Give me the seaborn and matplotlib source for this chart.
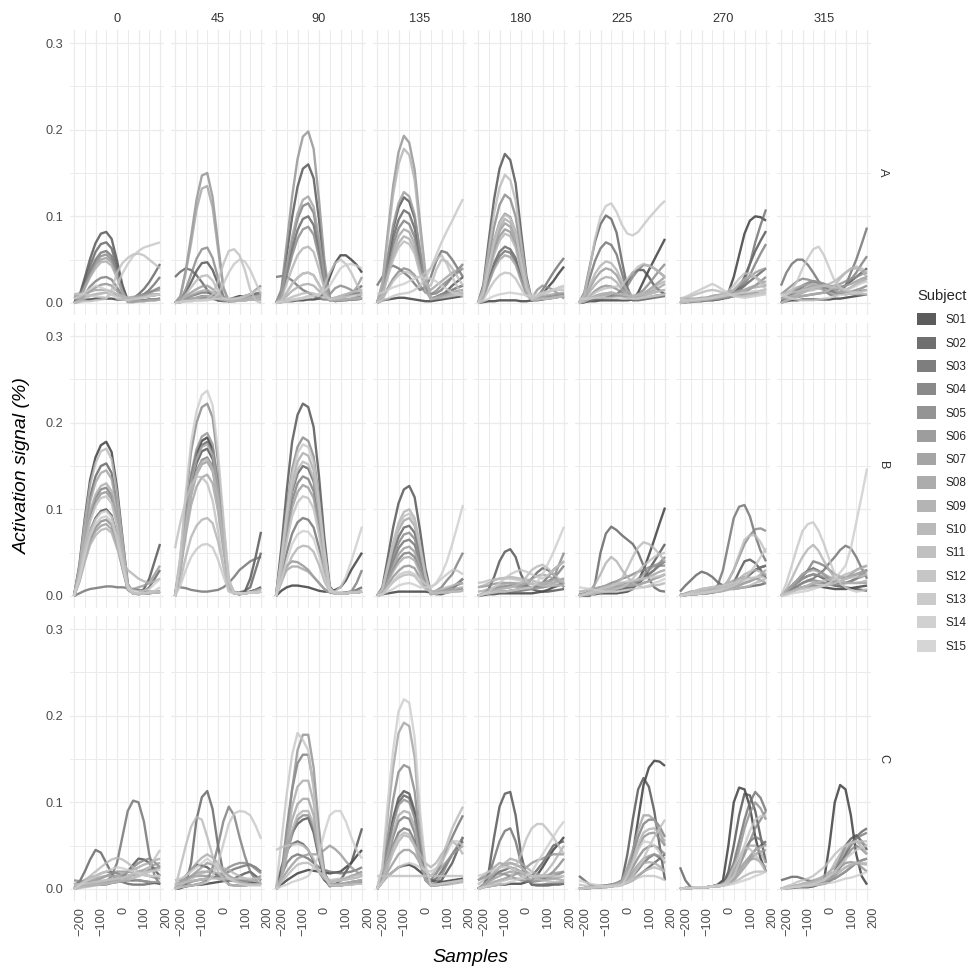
import numpy as np
import pandas as pd
import matplotlib
matplotlib.use("Agg")
import matplotlib.pyplot as plt
import seaborn as sns
from matplotlib.patches import Patch

# x positions of the readings (samples); values below are in thousandths
SAMPLES = [-200, -175, -150, -125, -100, -75, -50, -25, 0, 25, 50, 75, 100, 125, 150, 175, 200]
PER_MILLE = 1000.0
SUBJECTS = ["S%02d" % i for i in range(1, 16)]
ANGLES = ["0", "45", "90", "135", "180", "225", "270", "315"]
CONDITIONS = ["A", "B", "C"]

# ---------------- Condition A ----------------
A_0 = [
    [3, 3, 4, 4, 5, 5, 5, 5, 4, 4, 4, 5, 6, 7, 8, 9, 10],
    [5, 8, 29, 51, 69, 80, 82, 74, 49, 21, 3, 2, 3, 3, 4, 4, 5],
    [0, 6, 25, 43, 59, 68, 70, 63, 42, 18, 3, 5, 10, 16, 24, 34, 45],
    [0, 5, 21, 37, 50, 58, 60, 54, 36, 15, 2, 3, 6, 10, 15, 22, 30],
    [0, 2, 10, 19, 25, 29, 30, 27, 18, 9, 5, 6, 8, 10, 12, 15, 18],
    [8, 9, 20, 35, 47, 54, 56, 50, 34, 14, 2, 2, 3, 3, 4, 4, 5],
    [0, 2, 8, 14, 18, 21, 22, 20, 14, 8, 4, 5, 8, 10, 12, 14, 15],
    [0, 4, 18, 32, 44, 50, 52, 47, 31, 13, 1, 1, 2, 2, 3, 3, 4],
    [10, 11, 12, 13, 15, 15, 15, 13, 10, 8, 6, 7, 8, 9, 10, 10, 10],
    [0, 4, 17, 30, 40, 47, 48, 43, 29, 12, 1, 1, 2, 2, 3, 3, 4],
    [5, 6, 8, 9, 10, 11, 12, 10, 8, 6, 5, 5, 6, 7, 8, 9, 10],
    [0, 2, 5, 8, 10, 11, 12, 11, 10, 8, 6, 6, 6, 7, 8, 9, 10],
    [0, 1, 2, 2, 3, 4, 5, 15, 35, 46, 52, 56, 57, 55, 50, 45, 40],
    [10, 10, 10, 9, 8, 7, 6, 10, 20, 34, 45, 54, 60, 64, 66, 68, 70],
    [5, 8, 12, 16, 20, 18, 15, 10, 5, 4, 3, 4, 5, 6, 8, 9, 10],
]
A_45 = [
    [0, 2, 3, 4, 5, 6, 6, 5, 3, 3, 4, 6, 8, 7, 6, 5, 5],
    [0, 2, 12, 24, 37, 46, 47, 38, 22, 6, 2, 3, 5, 6, 8, 8, 8],
    [30, 36, 40, 38, 32, 24, 15, 8, 3, 2, 2, 4, 6, 8, 10, 11, 12],
    [0, 1, 5, 8, 10, 12, 12, 10, 6, 4, 4, 5, 6, 7, 8, 9, 10],
    [0, 1, 4, 5, 6, 8, 8, 6, 4, 4, 4, 5, 6, 8, 10, 15, 20],
    [0, 3, 16, 33, 51, 62, 64, 52, 29, 8, 2, 2, 3, 3, 4, 4, 4],
    [0, 8, 38, 77, 119, 147, 150, 122, 69, 18, 2, 3, 4, 5, 5, 5, 5],
    [0, 1, 8, 12, 16, 19, 20, 16, 10, 6, 3, 3, 4, 5, 6, 8, 10],
    [0, 7, 35, 69, 108, 132, 135, 110, 62, 17, 2, 2, 3, 3, 4, 4, 5],
    [0, 1, 6, 9, 12, 14, 15, 12, 8, 5, 3, 4, 5, 5, 6, 7, 8],
    [0, 1, 3, 5, 6, 7, 8, 7, 5, 3, 3, 4, 5, 6, 7, 7, 8],
    [0, 2, 10, 18, 26, 31, 32, 26, 14, 5, 2, 2, 3, 3, 4, 4, 5],
    [0, 1, 2, 3, 4, 4, 5, 10, 25, 45, 60, 62, 55, 38, 15, 3, 0],
    [0, 1, 2, 2, 3, 3, 3, 5, 10, 22, 35, 45, 50, 48, 38, 24, 10],
    [0, 1, 2, 2, 3, 3, 4, 4, 5, 5, 5, 5, 6, 8, 10, 14, 18],
]
A_90 = [
    [0, 1, 2, 2, 3, 3, 4, 4, 5, 12, 30, 46, 55, 55, 50, 44, 35],
    [0, 13, 56, 99, 134, 155, 160, 144, 96, 40, 5, 2, 3, 3, 4, 4, 5],
    [0, 8, 35, 62, 84, 97, 100, 90, 60, 25, 3, 4, 5, 8, 10, 15, 20],
    [30, 31, 30, 26, 20, 15, 12, 8, 5, 4, 4, 5, 6, 8, 10, 11, 12],
    [0, 9, 40, 71, 97, 112, 115, 104, 69, 29, 3, 3, 3, 4, 4, 5, 5],
    [0, 7, 31, 55, 74, 85, 88, 79, 53, 22, 10, 17, 20, 18, 15, 10, 5],
    [0, 16, 69, 123, 166, 192, 198, 178, 119, 50, 5, 3, 3, 4, 5, 7, 10],
    [0, 3, 12, 22, 29, 34, 35, 32, 21, 10, 4, 5, 6, 8, 10, 18, 30],
    [0, 10, 43, 76, 103, 119, 123, 111, 74, 31, 3, 3, 3, 4, 4, 5, 5],
    [0, 2, 8, 14, 18, 21, 22, 20, 14, 8, 5, 6, 8, 10, 12, 14, 15],
    [0, 5, 23, 40, 55, 63, 65, 59, 39, 17, 3, 3, 4, 4, 5, 5, 6],
    [0, 1, 4, 7, 9, 11, 12, 11, 8, 6, 5, 6, 8, 10, 12, 14, 15],
    [0, 1, 2, 4, 5, 6, 8, 9, 10, 20, 35, 46, 50, 45, 35, 22, 10],
    [0, 3, 12, 22, 29, 34, 35, 32, 21, 10, 4, 5, 6, 7, 8, 9, 10],
    [0, 1, 2, 3, 4, 5, 6, 8, 10, 14, 20, 30, 40, 44, 45, 43, 40],
]
A_135 = [
    [0, 3, 4, 5, 6, 6, 5, 4, 3, 2, 2, 3, 4, 5, 6, 7, 8],
    [0, 15, 51, 85, 110, 122, 117, 98, 59, 22, 5, 4, 8, 14, 20, 25, 30],
    [0, 13, 45, 75, 96, 107, 103, 86, 51, 19, 5, 7, 10, 12, 15, 18, 20],
    [20, 30, 40, 43, 40, 35, 30, 22, 15, 18, 30, 48, 60, 58, 50, 40, 30],
    [0, 11, 40, 67, 86, 95, 91, 76, 46, 18, 10, 11, 15, 22, 30, 38, 45],
    [0, 5, 17, 28, 36, 40, 38, 32, 20, 12, 10, 14, 20, 25, 30, 35, 40],
    [0, 23, 81, 135, 174, 193, 185, 154, 93, 35, 5, 7, 10, 12, 15, 18, 20],
    [0, 15, 54, 90, 115, 128, 123, 102, 61, 23, 5, 6, 8, 10, 12, 14, 15],
    [0, 10, 36, 60, 77, 85, 82, 68, 41, 20, 15, 20, 25, 30, 35, 38, 40],
    [0, 9, 32, 54, 69, 77, 74, 62, 37, 14, 5, 6, 8, 9, 10, 11, 12],
    [0, 21, 75, 125, 160, 178, 171, 142, 85, 32, 4, 5, 6, 7, 8, 9, 10],
    [0, 9, 30, 50, 64, 71, 68, 57, 34, 22, 20, 38, 50, 48, 40, 30, 20],
    [0, 4, 15, 25, 32, 36, 35, 30, 30, 35, 40, 50, 55, 45, 30, 18, 10],
    [0, 3, 5, 8, 10, 11, 12, 15, 20, 28, 40, 55, 70, 83, 95, 108, 120],
    [10, 12, 15, 18, 20, 22, 25, 28, 30, 29, 28, 25, 20, 16, 12, 10, 8],
]
A_180 = [
    [0, 1, 2, 2, 3, 3, 3, 3, 2, 2, 3, 5, 10, 18, 25, 34, 42],
    [0, 21, 72, 120, 155, 172, 165, 138, 83, 31, 3, 3, 4, 5, 6, 7, 8],
    [0, 8, 27, 46, 59, 65, 62, 52, 31, 12, 4, 5, 6, 7, 8, 9, 10],
    [0, 7, 25, 42, 54, 60, 58, 48, 29, 11, 3, 7, 15, 25, 35, 44, 52],
    [0, 12, 43, 72, 93, 103, 99, 82, 49, 19, 4, 4, 5, 5, 6, 7, 8],
    [0, 15, 53, 88, 113, 125, 120, 100, 60, 23, 4, 5, 6, 7, 8, 9, 10],
    [0, 10, 36, 60, 77, 85, 82, 68, 41, 15, 5, 15, 20, 18, 15, 10, 5],
    [0, 11, 39, 64, 83, 92, 88, 74, 44, 17, 5, 5, 6, 7, 8, 9, 10],
    [0, 7, 23, 39, 50, 55, 53, 44, 26, 10, 4, 6, 8, 9, 10, 11, 12],
    [0, 12, 41, 68, 87, 97, 93, 78, 47, 17, 4, 4, 5, 5, 6, 7, 8],
    [0, 10, 34, 56, 72, 80, 77, 64, 38, 14, 4, 4, 5, 5, 6, 7, 8],
    [0, 18, 62, 104, 133, 148, 142, 118, 71, 27, 4, 4, 5, 5, 6, 7, 8],
    [0, 4, 15, 25, 32, 35, 34, 28, 17, 8, 5, 8, 10, 13, 15, 15, 15],
    [0, 12, 43, 71, 92, 102, 98, 82, 49, 18, 5, 7, 10, 12, 15, 18, 20],
    [0, 2, 5, 8, 10, 11, 12, 11, 10, 9, 8, 10, 12, 14, 15, 17, 18],
]
A_225 = [
    [0, 1, 2, 2, 3, 3, 3, 3, 3, 3, 4, 12, 25, 38, 50, 62, 74],
    [0, 1, 3, 4, 5, 6, 8, 10, 15, 25, 35, 38, 38, 30, 20, 14, 10],
    [0, 12, 42, 71, 91, 101, 97, 81, 48, 18, 3, 3, 4, 5, 6, 7, 8],
    [0, 8, 29, 49, 63, 70, 67, 56, 34, 14, 4, 4, 5, 6, 8, 9, 10],
    [0, 1, 3, 4, 5, 6, 6, 8, 10, 20, 30, 38, 44, 43, 40, 35, 30],
    [0, 2, 5, 8, 10, 11, 12, 10, 8, 6, 6, 10, 15, 22, 30, 38, 45],
    [0, 2, 8, 14, 18, 20, 19, 16, 12, 8, 5, 5, 6, 7, 8, 9, 10],
    [0, 5, 17, 28, 36, 40, 38, 32, 20, 10, 6, 8, 10, 15, 20, 25, 30],
    [0, 2, 5, 7, 8, 9, 10, 9, 8, 7, 6, 8, 10, 12, 15, 18, 22],
    [0, 4, 13, 21, 27, 30, 29, 24, 15, 8, 5, 6, 8, 10, 12, 14, 15],
    [0, 6, 20, 34, 43, 48, 46, 38, 25, 14, 8, 10, 12, 15, 18, 22, 25],
    [0, 2, 5, 8, 10, 11, 12, 11, 10, 9, 8, 9, 10, 11, 12, 14, 15],
    [0, 4, 8, 12, 15, 17, 18, 19, 20, 28, 35, 42, 45, 43, 40, 35, 30],
    [0, 10, 40, 75, 100, 112, 115, 105, 90, 80, 78, 82, 90, 98, 105, 112, 118],
    [5, 5, 5, 6, 6, 6, 6, 6, 5, 5, 5, 5, 6, 7, 8, 9, 10],
]
A_270 = [
    [0, 1, 1, 2, 2, 3, 3, 4, 5, 12, 30, 55, 80, 95, 100, 99, 95],
    [0, 1, 2, 3, 4, 5, 6, 7, 8, 10, 12, 18, 30, 45, 60, 72, 83],
    [2, 2, 3, 3, 4, 4, 5, 5, 6, 8, 10, 15, 20, 25, 30, 35, 40],
    [0, 1, 2, 2, 3, 3, 4, 4, 5, 6, 8, 14, 25, 45, 70, 90, 108],
    [0, 2, 3, 4, 5, 5, 6, 7, 8, 9, 10, 14, 20, 32, 45, 57, 68],
    [0, 1, 2, 3, 4, 4, 5, 5, 6, 7, 8, 10, 12, 16, 20, 25, 30],
    [5, 5, 5, 5, 6, 6, 6, 6, 7, 7, 8, 9, 10, 11, 12, 14, 15],
    [0, 2, 3, 4, 5, 6, 8, 9, 10, 12, 15, 20, 25, 30, 35, 38, 40],
    [0, 1, 2, 2, 3, 3, 4, 5, 6, 8, 10, 12, 15, 18, 20, 23, 25],
    [2, 2, 3, 4, 5, 6, 8, 9, 10, 11, 12, 14, 15, 17, 18, 19, 20],
    [0, 1, 2, 2, 3, 4, 5, 6, 8, 11, 15, 22, 28, 30, 30, 26, 20],
    [5, 6, 8, 10, 12, 14, 15, 14, 12, 10, 8, 8, 8, 9, 10, 11, 12],
    [0, 1, 2, 3, 4, 5, 6, 8, 10, 14, 20, 28, 34, 34, 30, 23, 15],
    [5, 7, 10, 13, 16, 19, 22, 19, 15, 11, 8, 7, 6, 7, 8, 9, 10],
    [3, 3, 4, 4, 5, 5, 6, 7, 8, 9, 10, 11, 12, 13, 14, 14, 15],
]
A_315 = [
    [2, 2, 3, 3, 4, 4, 4, 4, 4, 4, 5, 5, 6, 7, 8, 9, 10],
    [5, 5, 6, 7, 8, 9, 10, 11, 12, 13, 15, 17, 20, 25, 30, 35, 40],
    [0, 5, 10, 15, 20, 23, 25, 23, 20, 15, 12, 11, 10, 11, 12, 14, 15],
    [20, 35, 45, 50, 50, 44, 35, 25, 15, 10, 8, 12, 20, 35, 50, 68, 87],
    [0, 5, 10, 14, 18, 22, 25, 24, 22, 18, 15, 17, 20, 27, 35, 45, 54],
    [10, 15, 20, 25, 28, 27, 25, 22, 18, 15, 12, 12, 12, 13, 15, 17, 20],
    [0, 4, 8, 12, 15, 18, 20, 19, 18, 19, 20, 22, 25, 28, 30, 33, 35],
    [5, 8, 12, 16, 20, 23, 25, 24, 22, 20, 18, 19, 20, 22, 25, 28, 30],
    [0, 2, 5, 8, 12, 15, 18, 17, 15, 12, 10, 12, 15, 18, 22, 25, 28],
    [10, 12, 15, 18, 20, 21, 22, 21, 20, 18, 15, 13, 12, 11, 10, 10, 10],
    [5, 6, 8, 10, 12, 14, 15, 17, 20, 22, 25, 30, 35, 39, 40, 37, 30],
    [0, 3, 5, 7, 8, 9, 10, 11, 12, 15, 20, 28, 35, 40, 42, 40, 35],
    [10, 11, 12, 13, 15, 16, 18, 19, 20, 19, 18, 16, 15, 13, 12, 11, 10],
    [8, 10, 15, 25, 40, 52, 62, 65, 55, 40, 25, 18, 15, 17, 20, 23, 25],
    [10, 7, 5, 4, 3, 3, 3, 4, 5, 6, 8, 9, 10, 11, 12, 13, 15],
]

# ---------------- Condition B ----------------
B_0 = [
    [0, 36, 89, 134, 160, 174, 178, 166, 125, 68, 14, 3, 2, 3, 3, 4, 5],
    [0, 20, 50, 75, 90, 98, 100, 93, 70, 38, 8, 3, 3, 8, 20, 40, 60],
    [0, 31, 77, 115, 138, 150, 153, 142, 107, 58, 12, 3, 3, 5, 10, 20, 30],
    [0, 3, 6, 8, 9, 10, 11, 11, 10, 10, 9, 8, 7, 6, 5, 5, 4],
    [0, 25, 63, 94, 113, 123, 125, 116, 88, 48, 10, 3, 3, 3, 4, 4, 5],
    [0, 18, 44, 66, 79, 86, 88, 82, 62, 33, 7, 3, 3, 3, 4, 4, 5],
    [0, 24, 60, 90, 108, 118, 120, 112, 84, 46, 10, 3, 3, 3, 4, 4, 5],
    [0, 17, 42, 62, 75, 81, 83, 77, 58, 32, 8, 8, 10, 12, 15, 25, 35],
    [0, 29, 73, 109, 131, 142, 145, 135, 102, 55, 12, 3, 3, 3, 4, 4, 5],
    [0, 26, 65, 98, 117, 127, 130, 121, 91, 49, 10, 3, 3, 3, 4, 4, 5],
    [0, 16, 39, 59, 70, 76, 78, 73, 55, 40, 30, 25, 20, 17, 15, 17, 20],
    [0, 34, 85, 128, 153, 167, 170, 158, 119, 65, 14, 3, 3, 3, 4, 4, 5],
    [0, 23, 58, 86, 104, 113, 115, 107, 81, 44, 9, 3, 3, 3, 4, 4, 5],
    [0, 18, 46, 69, 83, 90, 92, 86, 64, 35, 8, 3, 3, 3, 4, 6, 10],
    [0, 20, 49, 74, 88, 96, 98, 91, 69, 37, 10, 6, 5, 6, 8, 14, 20],
]
B_45 = [
    [0, 37, 92, 137, 165, 179, 183, 170, 128, 70, 15, 3, 2, 3, 5, 7, 10],
    [0, 34, 85, 128, 153, 167, 170, 158, 119, 65, 14, 3, 2, 5, 20, 45, 74],
    [0, 36, 89, 134, 160, 174, 178, 166, 125, 68, 14, 4, 4, 6, 10, 30, 50],
    [12, 10, 9, 7, 6, 5, 5, 6, 7, 10, 15, 22, 30, 35, 40, 43, 45],
    [0, 32, 80, 120, 144, 157, 160, 149, 112, 61, 13, 3, 3, 4, 5, 7, 10],
    [0, 44, 111, 167, 200, 218, 222, 206, 155, 84, 18, 4, 3, 3, 4, 4, 5],
    [0, 38, 94, 141, 169, 184, 188, 175, 132, 71, 15, 3, 3, 3, 4, 4, 5],
    [0, 31, 78, 116, 140, 152, 155, 144, 109, 59, 12, 3, 3, 3, 4, 4, 5],
    [0, 28, 70, 105, 126, 137, 140, 130, 98, 53, 11, 3, 3, 3, 4, 4, 5],
    [0, 35, 88, 131, 158, 172, 175, 163, 123, 67, 14, 3, 3, 3, 4, 4, 5],
    [0, 18, 45, 68, 81, 88, 90, 84, 63, 34, 7, 3, 3, 3, 4, 4, 5],
    [0, 32, 79, 119, 142, 155, 158, 147, 111, 60, 13, 3, 3, 3, 4, 6, 8],
    [55, 85, 110, 128, 138, 137, 130, 110, 75, 35, 6, 3, 3, 3, 4, 4, 5],
    [0, 12, 30, 45, 54, 59, 60, 56, 42, 23, 5, 3, 3, 3, 4, 4, 5],
    [0, 47, 119, 178, 213, 232, 237, 220, 166, 90, 19, 4, 3, 3, 4, 4, 5],
]
B_90 = [
    [0, 6, 10, 12, 12, 11, 10, 8, 6, 5, 5, 7, 10, 18, 30, 40, 50],
    [0, 56, 122, 178, 209, 222, 218, 195, 138, 67, 11, 3, 3, 3, 4, 4, 5],
    [0, 38, 83, 120, 141, 150, 147, 132, 93, 45, 8, 3, 3, 4, 5, 7, 10],
    [0, 23, 50, 72, 85, 90, 88, 79, 56, 27, 5, 3, 3, 3, 4, 4, 5],
    [0, 35, 76, 110, 130, 138, 135, 121, 86, 41, 7, 3, 3, 4, 5, 15, 30],
    [0, 46, 101, 146, 172, 183, 179, 161, 113, 55, 9, 3, 3, 3, 4, 4, 5],
    [0, 25, 35, 40, 39, 35, 30, 22, 15, 8, 4, 3, 3, 3, 4, 4, 5],
    [0, 32, 70, 102, 120, 128, 125, 113, 79, 38, 6, 3, 3, 3, 4, 4, 5],
    [0, 18, 30, 34, 34, 31, 28, 22, 15, 8, 4, 3, 3, 3, 4, 4, 5],
    [0, 41, 91, 132, 155, 165, 162, 145, 102, 50, 8, 3, 3, 3, 4, 4, 5],
    [0, 15, 32, 46, 55, 58, 57, 51, 36, 17, 5, 4, 4, 4, 5, 5, 6],
    [0, 39, 85, 124, 146, 155, 152, 136, 96, 47, 8, 3, 3, 3, 4, 4, 5],
    [0, 29, 63, 92, 108, 115, 113, 101, 71, 35, 6, 3, 3, 3, 4, 4, 5],
    [0, 44, 96, 140, 165, 175, 172, 154, 109, 53, 9, 3, 3, 3, 4, 4, 5],
    [0, 19, 41, 60, 71, 75, 74, 66, 47, 23, 5, 5, 10, 22, 40, 60, 80],
]
B_135 = [
    [0, 2, 3, 4, 5, 5, 5, 5, 5, 5, 4, 4, 5, 5, 6, 6, 6],
    [0, 10, 44, 79, 107, 123, 127, 114, 76, 32, 4, 2, 2, 4, 8, 14, 20],
    [0, 6, 28, 50, 68, 79, 81, 73, 49, 20, 2, 3, 3, 4, 5, 6, 8],
    [0, 5, 23, 40, 55, 63, 65, 59, 39, 16, 3, 4, 5, 8, 10, 13, 15],
    [0, 4, 18, 31, 42, 49, 50, 45, 30, 13, 4, 6, 10, 18, 25, 38, 50],
    [0, 6, 26, 45, 61, 71, 73, 66, 44, 18, 3, 3, 4, 5, 6, 7, 8],
    [0, 3, 12, 22, 29, 34, 35, 32, 21, 10, 4, 5, 6, 8, 10, 15, 20],
    [0, 5, 20, 35, 48, 55, 57, 51, 34, 14, 3, 3, 4, 5, 6, 7, 8],
    [0, 7, 32, 56, 76, 87, 90, 81, 54, 23, 3, 3, 4, 5, 6, 7, 8],
    [0, 4, 16, 28, 38, 44, 45, 41, 27, 11, 4, 5, 6, 7, 8, 9, 10],
    [0, 8, 35, 62, 84, 97, 100, 90, 60, 25, 3, 3, 4, 4, 5, 5, 6],
    [0, 2, 9, 16, 21, 24, 25, 23, 15, 8, 5, 6, 8, 10, 12, 14, 15],
    [0, 8, 33, 59, 80, 92, 95, 86, 57, 24, 3, 3, 4, 4, 5, 5, 6],
    [0, 2, 10, 17, 24, 27, 28, 25, 20, 14, 10, 14, 20, 25, 30, 29, 25],
    [0, 2, 5, 8, 12, 14, 15, 13, 10, 10, 10, 15, 25, 40, 60, 82, 105],
]
B_180 = [
    [0, 1, 2, 2, 3, 3, 3, 3, 3, 3, 3, 4, 5, 7, 10, 12, 15],
    [0, 2, 8, 22, 40, 51, 54, 45, 25, 12, 8, 6, 5, 5, 6, 7, 8],
    [0, 2, 3, 4, 5, 5, 6, 7, 8, 13, 20, 27, 32, 30, 25, 17, 10],
    [0, 2, 3, 3, 4, 4, 5, 5, 6, 7, 8, 11, 15, 22, 30, 35, 40],
    [0, 3, 5, 8, 10, 11, 12, 12, 12, 11, 10, 11, 12, 15, 20, 27, 35],
    [0, 2, 3, 4, 5, 5, 6, 7, 8, 9, 10, 12, 15, 17, 20, 35, 50],
    [10, 11, 12, 14, 15, 15, 15, 14, 12, 11, 10, 10, 10, 11, 12, 13, 15],
    [0, 3, 5, 8, 10, 11, 12, 11, 10, 9, 8, 9, 10, 12, 15, 17, 20],
    [0, 3, 5, 6, 8, 9, 10, 11, 12, 16, 20, 23, 25, 23, 20, 17, 15],
    [5, 6, 8, 10, 12, 14, 15, 15, 15, 14, 14, 14, 15, 16, 18, 19, 20],
    [10, 12, 15, 18, 20, 21, 22, 21, 20, 19, 18, 16, 15, 15, 15, 16, 18],
    [0, 2, 4, 6, 8, 9, 10, 12, 15, 22, 30, 34, 36, 32, 25, 20, 15],
    [15, 16, 18, 19, 20, 20, 20, 19, 18, 16, 15, 13, 12, 12, 12, 12, 12],
    [0, 3, 5, 10, 15, 20, 25, 28, 30, 28, 25, 22, 20, 24, 30, 35, 40],
    [0, 2, 3, 4, 5, 5, 6, 7, 8, 9, 10, 16, 25, 37, 50, 65, 80],
]
B_225 = [
    [0, 1, 2, 2, 3, 3, 3, 3, 4, 5, 8, 17, 30, 47, 65, 84, 102],
    [0, 2, 3, 4, 5, 5, 6, 7, 8, 9, 10, 14, 20, 30, 40, 50, 60],
    [0, 0, 0, 15, 50, 72, 80, 76, 70, 65, 60, 50, 35, 20, 10, 6, 5],
    [0, 1, 2, 3, 4, 5, 6, 7, 8, 10, 12, 16, 20, 25, 30, 35, 40],
    [0, 2, 4, 6, 8, 10, 12, 14, 15, 15, 15, 17, 20, 25, 30, 38, 45],
    [2, 3, 5, 8, 10, 12, 15, 17, 20, 22, 25, 28, 30, 33, 35, 35, 35],
    [0, 2, 3, 5, 6, 8, 10, 11, 12, 12, 12, 13, 15, 17, 20, 22, 25],
    [0, 3, 5, 8, 10, 11, 12, 12, 12, 13, 15, 20, 25, 30, 35, 38, 40],
    [0, 1, 2, 3, 5, 6, 8, 9, 10, 12, 15, 17, 20, 22, 25, 28, 30],
    [5, 6, 8, 9, 10, 11, 12, 12, 12, 12, 12, 13, 15, 17, 20, 22, 25],
    [0, 2, 5, 14, 25, 38, 45, 40, 30, 22, 15, 12, 10, 11, 12, 13, 15],
    [0, 2, 3, 5, 6, 8, 10, 14, 20, 32, 45, 56, 62, 60, 55, 48, 40],
    [0, 1, 2, 3, 4, 5, 6, 8, 10, 14, 20, 28, 35, 40, 45, 48, 50],
    [0, 2, 4, 6, 8, 10, 12, 14, 15, 17, 18, 19, 20, 21, 22, 23, 25],
    [10, 9, 8, 7, 6, 5, 5, 5, 6, 7, 8, 9, 10, 12, 15, 17, 20],
]
B_270 = [
    [0, 1, 2, 2, 3, 3, 4, 5, 6, 8, 10, 15, 20, 25, 30, 33, 35],
    [0, 2, 3, 4, 5, 5, 6, 7, 8, 10, 15, 28, 40, 42, 38, 30, 20],
    [5, 12, 18, 24, 28, 26, 22, 16, 12, 10, 8, 9, 10, 11, 12, 13, 15],
    [0, 1, 2, 3, 4, 5, 6, 12, 30, 60, 90, 103, 105, 92, 70, 52, 40],
    [0, 1, 2, 3, 4, 5, 6, 7, 8, 10, 12, 16, 20, 25, 30, 33, 35],
    [0, 1, 2, 2, 3, 4, 5, 7, 10, 18, 30, 45, 60, 70, 77, 78, 75],
    [0, 3, 5, 6, 8, 9, 10, 11, 12, 12, 12, 13, 15, 17, 20, 22, 25],
    [0, 2, 3, 4, 5, 5, 6, 7, 8, 9, 10, 12, 15, 17, 20, 22, 25],
    [2, 2, 3, 4, 5, 6, 8, 10, 12, 15, 18, 20, 22, 21, 20, 18, 15],
    [0, 1, 2, 2, 3, 3, 4, 5, 6, 8, 10, 12, 15, 17, 20, 25, 30],
    [0, 2, 3, 4, 5, 6, 8, 9, 10, 12, 15, 20, 25, 28, 30, 28, 25],
    [0, 1, 2, 3, 4, 4, 5, 5, 6, 7, 8, 9, 10, 12, 15, 17, 20],
    [0, 2, 3, 4, 5, 5, 6, 8, 10, 18, 30, 48, 65, 70, 70, 62, 50],
    [0, 2, 4, 6, 8, 9, 10, 11, 12, 13, 15, 17, 20, 27, 35, 45, 55],
    [0, 1, 2, 2, 3, 4, 5, 6, 8, 10, 12, 15, 18, 20, 22, 22, 20],
]
B_315 = [
    [0, 3, 5, 8, 10, 11, 12, 11, 10, 9, 8, 8, 8, 9, 10, 11, 12],
    [0, 5, 10, 15, 20, 23, 25, 23, 20, 16, 12, 11, 10, 9, 8, 7, 6],
    [0, 6, 12, 18, 25, 29, 32, 29, 25, 20, 15, 15, 15, 17, 20, 25, 30],
    [0, 4, 8, 11, 15, 18, 20, 25, 30, 38, 45, 53, 58, 55, 45, 32, 20],
    [0, 5, 10, 16, 22, 30, 40, 38, 35, 30, 25, 22, 20, 22, 25, 27, 30],
    [0, 4, 8, 11, 15, 17, 18, 17, 15, 13, 12, 13, 15, 17, 20, 22, 25],
    [0, 3, 5, 8, 10, 12, 15, 15, 15, 15, 15, 17, 20, 25, 30, 33, 35],
    [0, 5, 10, 15, 20, 23, 25, 24, 22, 20, 18, 16, 15, 15, 15, 15, 15],
    [0, 3, 5, 8, 10, 11, 12, 12, 12, 13, 15, 17, 20, 22, 25, 28, 30],
    [0, 6, 12, 18, 25, 28, 30, 28, 25, 22, 20, 21, 22, 23, 25, 26, 28],
    [0, 8, 20, 33, 45, 54, 59, 52, 40, 30, 20, 17, 15, 15, 15, 16, 18],
    [0, 3, 5, 8, 10, 12, 15, 16, 18, 19, 20, 22, 25, 27, 30, 32, 35],
    [0, 3, 5, 7, 8, 9, 10, 11, 12, 13, 15, 17, 20, 21, 22, 23, 25],
    [0, 15, 35, 56, 75, 83, 85, 75, 60, 42, 25, 15, 10, 7, 5, 6, 8],
    [0, 1, 3, 4, 5, 6, 8, 10, 12, 15, 20, 27, 35, 55, 85, 115, 147],
]

# ---------------- Condition C ----------------
C_0 = [
    [3, 3, 4, 4, 5, 5, 6, 7, 8, 9, 10, 10, 10, 9, 8, 7, 6],
    [2, 3, 4, 5, 6, 7, 8, 9, 10, 14, 20, 28, 35, 34, 30, 22, 15],
    [0, 8, 20, 34, 45, 42, 30, 18, 10, 8, 6, 5, 5, 5, 6, 7, 8],
    [0, 2, 3, 4, 5, 6, 8, 15, 30, 60, 90, 102, 100, 78, 40, 15, 5],
    [5, 8, 10, 13, 15, 18, 20, 19, 18, 16, 15, 16, 18, 20, 22, 24, 25],
    [10, 9, 8, 7, 6, 5, 5, 7, 10, 15, 20, 25, 30, 33, 35, 31, 25],
    [0, 3, 5, 8, 10, 12, 15, 18, 20, 20, 20, 19, 18, 16, 15, 13, 12],
    [0, 2, 4, 6, 8, 9, 10, 11, 12, 13, 15, 17, 20, 22, 25, 28, 30],
    [5, 6, 8, 10, 12, 14, 15, 15, 15, 13, 12, 11, 10, 9, 8, 8, 8],
    [0, 2, 3, 5, 6, 8, 10, 12, 15, 17, 20, 22, 25, 28, 30, 33, 35],
    [2, 3, 4, 5, 6, 7, 8, 9, 10, 11, 12, 13, 15, 17, 20, 22, 25],
    [0, 5, 10, 15, 20, 25, 30, 34, 36, 34, 30, 25, 20, 17, 15, 15, 15],
    [0, 1, 2, 3, 4, 5, 6, 7, 8, 9, 10, 12, 15, 20, 25, 35, 45],
    [5, 5, 6, 7, 8, 9, 10, 11, 12, 13, 15, 17, 18, 19, 20, 21, 22],
    [0, 4, 8, 12, 15, 18, 20, 23, 25, 24, 22, 20, 18, 16, 15, 15, 15],
]
C_45 = [
    [0, 1, 3, 4, 5, 5, 6, 7, 8, 9, 10, 10, 10, 9, 8, 7, 6],
    [0, 8, 15, 22, 28, 27, 25, 20, 15, 12, 10, 12, 15, 18, 20, 15, 10],
    [0, 1, 5, 30, 80, 106, 113, 92, 50, 18, 5, 4, 4, 4, 5, 5, 6],
    [5, 6, 8, 9, 10, 11, 12, 13, 15, 17, 20, 23, 25, 27, 28, 25, 20],
    [0, 2, 3, 4, 5, 7, 10, 25, 50, 78, 95, 85, 60, 38, 20, 10, 5],
    [0, 3, 5, 8, 10, 11, 12, 13, 15, 20, 25, 28, 30, 30, 28, 23, 18],
    [10, 11, 12, 14, 15, 15, 15, 14, 12, 11, 10, 9, 8, 9, 10, 12, 15],
    [0, 5, 10, 15, 20, 25, 30, 28, 25, 20, 15, 12, 10, 10, 10, 11, 12],
    [5, 8, 10, 14, 18, 20, 20, 19, 18, 15, 12, 10, 8, 7, 6, 5, 5],
    [0, 8, 15, 22, 30, 36, 40, 36, 30, 22, 15, 11, 8, 6, 5, 5, 5],
    [0, 4, 8, 12, 15, 18, 20, 23, 25, 24, 22, 18, 15, 12, 10, 9, 8],
    [0, 25, 50, 72, 83, 80, 60, 38, 20, 10, 5, 4, 4, 4, 5, 5, 6],
    [5, 6, 8, 9, 10, 11, 12, 12, 12, 12, 12, 12, 12, 12, 12, 12, 12],
    [0, 2, 3, 4, 5, 6, 8, 15, 30, 52, 75, 87, 90, 89, 85, 73, 58],
    [10, 12, 15, 20, 25, 30, 35, 30, 25, 18, 12, 9, 6, 5, 4, 4, 4],
]
C_90 = [
    [0, 5, 10, 14, 18, 20, 22, 21, 20, 19, 18, 19, 20, 25, 30, 38, 45],
    [0, 20, 45, 65, 75, 80, 82, 65, 35, 12, 3, 5, 10, 20, 30, 50, 70],
    [0, 25, 45, 52, 55, 52, 45, 32, 20, 10, 5, 5, 5, 6, 8, 9, 10],
    [0, 15, 30, 37, 40, 38, 35, 30, 25, 22, 20, 19, 18, 19, 20, 22, 25],
    [0, 15, 70, 115, 145, 155, 155, 120, 60, 18, 4, 4, 4, 5, 6, 7, 8],
    [0, 15, 40, 62, 80, 85, 85, 70, 40, 18, 8, 9, 10, 12, 15, 17, 20],
    [0, 12, 60, 115, 160, 178, 178, 140, 70, 20, 4, 4, 4, 5, 5, 6, 6],
    [0, 10, 20, 28, 35, 38, 40, 40, 40, 45, 50, 46, 40, 32, 25, 20, 15],
    [0, 12, 50, 80, 98, 104, 104, 85, 45, 15, 5, 5, 6, 7, 8, 9, 10],
    [0, 14, 55, 95, 118, 125, 125, 100, 50, 17, 5, 5, 6, 7, 8, 9, 10],
    [0, 10, 40, 68, 85, 90, 90, 75, 40, 15, 8, 9, 10, 11, 12, 13, 15],
    [0, 8, 15, 22, 28, 30, 30, 26, 20, 15, 10, 11, 12, 13, 15, 16, 18],
    [45, 48, 50, 51, 52, 50, 45, 35, 20, 12, 8, 9, 10, 11, 12, 13, 15],
    [0, 55, 110, 155, 180, 172, 160, 115, 50, 15, 4, 4, 4, 5, 5, 6, 6],
    [0, 3, 5, 8, 10, 12, 15, 25, 40, 65, 85, 90, 90, 78, 60, 45, 35],
]
C_135 = [
    [0, 8, 15, 20, 25, 27, 28, 25, 20, 15, 10, 9, 8, 9, 10, 11, 12],
    [0, 14, 50, 82, 105, 113, 110, 90, 45, 15, 5, 6, 10, 20, 30, 45, 60],
    [0, 13, 45, 78, 100, 108, 105, 85, 40, 15, 8, 12, 20, 30, 40, 48, 55],
    [0, 8, 30, 50, 65, 70, 68, 55, 30, 15, 10, 18, 30, 45, 60, 73, 85],
    [0, 10, 35, 60, 78, 83, 81, 65, 30, 10, 4, 4, 5, 6, 8, 9, 10],
    [0, 17, 60, 103, 135, 143, 140, 113, 55, 18, 5, 8, 15, 28, 40, 50, 60],
    [0, 12, 48, 75, 97, 103, 100, 82, 40, 14, 5, 5, 6, 7, 8, 9, 10],
    [0, 8, 20, 30, 40, 45, 45, 40, 30, 20, 15, 18, 25, 32, 40, 45, 50],
    [0, 23, 85, 140, 180, 192, 188, 152, 75, 25, 5, 5, 6, 7, 8, 9, 10],
    [0, 11, 40, 65, 85, 90, 88, 72, 35, 12, 4, 4, 5, 5, 6, 7, 8],
    [0, 8, 25, 42, 55, 62, 60, 50, 40, 30, 25, 30, 40, 48, 55, 50, 40],
    [0, 8, 30, 48, 60, 65, 63, 50, 30, 20, 15, 22, 35, 52, 70, 83, 95],
    [15, 15, 15, 15, 15, 15, 15, 15, 15, 15, 15, 15, 15, 15, 15, 15, 15],
    [0, 8, 15, 20, 25, 28, 30, 28, 25, 22, 20, 24, 30, 42, 55, 55, 50],
    [0, 25, 100, 160, 205, 219, 215, 175, 90, 28, 5, 5, 6, 7, 8, 9, 10],
]
C_180 = [
    [0, 2, 3, 4, 5, 5, 6, 6, 6, 8, 10, 16, 25, 35, 45, 52, 60],
    [0, 3, 20, 60, 95, 110, 112, 85, 40, 15, 5, 4, 4, 4, 5, 5, 6],
    [0, 5, 10, 15, 20, 22, 25, 23, 20, 17, 15, 22, 30, 40, 50, 53, 55],
    [0, 4, 15, 35, 55, 67, 70, 55, 30, 12, 5, 5, 5, 6, 6, 7, 8],
    [0, 5, 10, 18, 25, 28, 30, 28, 25, 20, 15, 13, 12, 13, 15, 17, 20],
    [10, 13, 15, 17, 18, 17, 15, 12, 10, 9, 8, 9, 10, 15, 20, 27, 35],
    [0, 3, 5, 8, 10, 12, 15, 17, 20, 25, 30, 33, 35, 38, 40, 40, 40],
    [0, 4, 8, 12, 15, 18, 20, 19, 18, 16, 15, 15, 15, 16, 18, 19, 20],
    [10, 15, 20, 25, 30, 28, 25, 20, 15, 12, 10, 10, 10, 11, 12, 13, 15],
    [0, 5, 10, 18, 25, 30, 35, 33, 30, 25, 20, 17, 15, 13, 12, 11, 10],
    [0, 3, 5, 8, 10, 11, 12, 12, 12, 12, 12, 13, 15, 22, 30, 40, 50],
    [5, 10, 15, 20, 25, 28, 30, 28, 25, 20, 15, 12, 10, 9, 8, 8, 8],
    [0, 2, 4, 6, 8, 10, 12, 25, 40, 58, 70, 75, 75, 68, 60, 50, 40],
    [15, 17, 20, 22, 25, 25, 25, 22, 20, 17, 15, 15, 15, 15, 15, 15, 15],
    [0, 2, 3, 4, 5, 6, 8, 10, 12, 15, 20, 30, 40, 50, 60, 70, 78],
]
C_225 = [
    [0, 1, 1, 2, 2, 3, 3, 4, 5, 15, 40, 80, 120, 140, 148, 147, 142],
    [0, 1, 1, 2, 2, 3, 3, 5, 10, 40, 80, 115, 128, 118, 90, 50, 10],
    [15, 10, 5, 3, 2, 2, 3, 4, 5, 7, 10, 15, 20, 25, 30, 35, 40],
    [0, 1, 2, 2, 3, 3, 4, 5, 6, 10, 15, 22, 30, 36, 40, 36, 30],
    [0, 1, 2, 3, 3, 4, 5, 7, 10, 22, 40, 60, 75, 80, 80, 72, 60],
    [0, 1, 2, 3, 4, 4, 5, 6, 8, 15, 25, 36, 45, 49, 50, 46, 40],
    [0, 1, 2, 2, 3, 3, 4, 5, 6, 15, 30, 46, 60, 64, 65, 58, 50],
    [0, 1, 2, 3, 3, 4, 5, 6, 8, 12, 20, 28, 35, 38, 40, 38, 35],
    [0, 1, 1, 2, 2, 3, 4, 6, 10, 25, 45, 68, 85, 85, 80, 67, 50],
    [0, 1, 2, 2, 3, 3, 4, 5, 6, 10, 18, 25, 30, 31, 30, 26, 20],
    [0, 1, 2, 2, 3, 3, 4, 5, 8, 20, 35, 52, 65, 69, 70, 64, 55],
    [0, 1, 2, 2, 3, 3, 4, 5, 6, 8, 12, 16, 20, 23, 25, 23, 20],
    [5, 4, 3, 2, 2, 2, 3, 4, 5, 8, 15, 25, 35, 48, 60, 70, 80],
    [0, 1, 1, 2, 2, 3, 3, 4, 5, 7, 10, 13, 15, 15, 15, 13, 10],
    [10, 8, 6, 5, 4, 3, 3, 3, 4, 15, 30, 45, 55, 54, 50, 42, 30],
]
C_270 = [
    [0, 1, 1, 2, 2, 2, 3, 5, 10, 50, 100, 117, 115, 95, 60, 35, 20],
    [0, 1, 1, 2, 2, 2, 3, 4, 5, 20, 50, 85, 110, 108, 90, 60, 30],
    [25, 10, 2, 2, 2, 2, 3, 4, 5, 8, 15, 22, 30, 37, 45, 50, 55],
    [0, 1, 1, 2, 2, 2, 3, 4, 6, 15, 30, 55, 80, 100, 112, 105, 90],
    [0, 1, 1, 2, 2, 2, 3, 4, 5, 10, 20, 32, 45, 55, 60, 57, 50],
    [0, 1, 1, 2, 2, 2, 3, 3, 4, 8, 15, 26, 40, 55, 70, 80, 90],
    [0, 1, 1, 2, 2, 2, 3, 4, 5, 12, 25, 45, 70, 88, 100, 93, 80],
    [0, 1, 1, 2, 2, 2, 3, 3, 4, 6, 10, 17, 25, 33, 40, 43, 45],
    [0, 1, 1, 2, 2, 2, 3, 3, 4, 7, 12, 20, 30, 34, 35, 31, 25],
    [0, 1, 1, 2, 2, 2, 3, 4, 5, 10, 20, 33, 45, 50, 50, 42, 30],
    [0, 1, 1, 2, 2, 2, 3, 4, 5, 8, 15, 22, 30, 38, 45, 48, 50],
    [0, 1, 1, 2, 2, 2, 3, 3, 4, 5, 8, 11, 15, 18, 20, 20, 20],
    [0, 1, 1, 2, 2, 2, 3, 3, 4, 12, 25, 38, 48, 46, 40, 30, 20],
    [0, 1, 1, 2, 2, 2, 3, 4, 5, 8, 15, 30, 50, 67, 80, 84, 85],
    [0, 1, 1, 2, 2, 2, 3, 3, 4, 5, 6, 8, 10, 12, 15, 17, 20],
]
C_315 = [
    [0, 1, 1, 2, 2, 2, 3, 5, 10, 50, 100, 120, 115, 85, 40, 15, 5],
    [0, 1, 2, 2, 3, 3, 4, 5, 6, 10, 20, 35, 50, 58, 62, 55, 45],
    [10, 12, 14, 14, 12, 10, 8, 7, 6, 8, 15, 27, 40, 52, 60, 66, 70],
    [0, 1, 2, 3, 4, 5, 6, 7, 8, 10, 12, 16, 20, 25, 30, 33, 35],
    [0, 1, 2, 2, 3, 4, 5, 7, 10, 15, 20, 30, 40, 50, 58, 62, 65],
    [0, 1, 2, 3, 4, 5, 6, 7, 8, 11, 15, 25, 35, 45, 50, 46, 40],
    [0, 2, 3, 4, 5, 6, 8, 10, 12, 16, 20, 25, 30, 31, 30, 25, 20],
    [0, 1, 2, 3, 4, 4, 5, 6, 8, 10, 12, 16, 20, 25, 30, 33, 35],
    [0, 2, 3, 4, 6, 8, 10, 12, 15, 20, 25, 35, 45, 51, 55, 53, 50],
    [0, 1, 2, 3, 4, 5, 6, 8, 10, 12, 15, 20, 25, 28, 30, 29, 28],
    [0, 1, 2, 3, 4, 5, 6, 8, 10, 18, 30, 40, 50, 54, 55, 49, 40],
    [0, 2, 3, 4, 6, 7, 8, 10, 12, 15, 18, 21, 25, 28, 30, 30, 30],
    [0, 3, 5, 8, 10, 12, 15, 20, 25, 32, 40, 46, 50, 53, 55, 55, 55],
    [0, 1, 2, 3, 4, 5, 6, 8, 10, 15, 20, 27, 35, 40, 45, 48, 50],
    [0, 1, 2, 2, 3, 3, 4, 5, 6, 7, 8, 10, 12, 13, 15, 17, 20],
]

PANELS = {
    "A": [A_0, A_45, A_90, A_135, A_180, A_225, A_270, A_315],
    "B": [B_0, B_45, B_90, B_135, B_180, B_225, B_270, B_315],
    "C": [C_0, C_45, C_90, C_135, C_180, C_225, C_270, C_315],
}

# long table
records = []
for cond in CONDITIONS:
    for ang, mat in zip(ANGLES, PANELS[cond]):
        assert len(mat) == len(SUBJECTS), (cond, ang, "rows")
        for subj, vals in zip(SUBJECTS, mat):
            assert len(vals) == len(SAMPLES), (cond, ang, subj, len(vals))
            for x, v in zip(SAMPLES, vals):
                records.append((cond, ang, subj, x, v / PER_MILLE))
df = pd.DataFrame(records, columns=["Condition", "Angle", "Subject", "Samples", "Activation"])

# ---------------- style ----------------
sns.set_theme(style="white")
plt.rcParams["font.family"] = ["Liberation Sans", "DejaVu Sans"]

grey_levels = np.linspace(0.2 ** 2.2, 0.8 ** 2.2, len(SUBJECTS)) ** (1 / 2.2)
palette = {s: (g, g, g) for s, g in zip(SUBJECTS, grey_levels)}
LINE_ALPHA = 0.8

W, H = 972, 969
fig = plt.figure(figsize=(W / 100, H / 100), dpi=100)
fig.patch.set_facecolor("white")

PANEL_LEFT0 = 69.7
PANEL_STEP_X = 101.0
PANEL_W = 94.6
ROW_TOPS = [30.0, 323.0, 616.0]
PANEL_H = 285.0

TICK_COLOR = "#4d4d4d"
GRID_COLOR = "#ebebeb"

for r, cond in enumerate(CONDITIONS):
    for c, ang in enumerate(ANGLES):
        left = PANEL_LEFT0 + PANEL_STEP_X * c
        top = ROW_TOPS[r]
        ax = fig.add_axes([left / W, 1 - (top + PANEL_H) / H, PANEL_W / W, PANEL_H / H])
        ax.set_facecolor("white")
        sub = df[(df["Condition"] == cond) & (df["Angle"] == ang)]
        sns.lineplot(data=sub, x="Samples", y="Activation", hue="Subject",
                     hue_order=SUBJECTS, palette=palette, ax=ax, legend=False,
                     linewidth=1.7, alpha=LINE_ALPHA, estimator=None, sort=True,
                     solid_capstyle="butt", solid_joinstyle="round")
        ax.set_xlim(-220, 220)
        ax.set_ylim(-0.0139, 0.3151)
        ax.set_xticks([-200, -100, 0, 100, 200])
        ax.set_xticks([-150, -50, 50, 150], minor=True)
        ax.set_yticks([0.0, 0.1, 0.2, 0.3])
        ax.set_yticks([0.05, 0.15, 0.25], minor=True)
        ax.grid(True, which="major", color=GRID_COLOR, linewidth=0.9)
        ax.grid(True, which="minor", color=GRID_COLOR, linewidth=0.7)
        ax.set_axisbelow(True)
        for sp in ax.spines.values():
            sp.set_visible(False)
        ax.set_xlabel("")
        ax.set_ylabel("")
        ax.tick_params(which="both", length=0, colors=TICK_COLOR, labelsize=9.2)
        ax.tick_params(axis="y", pad=4.8)
        ax.tick_params(axis="x", pad=4.3)
        if c == 0:
            ax.set_yticklabels(["0.0", "0.1", "0.2", "0.3"])
        else:
            ax.set_yticklabels([])
        if r == len(CONDITIONS) - 1:
            ax.set_xticklabels(["\u2212200", "\u2212100", "0", "100", "200"],
                               rotation=90, ha="left", va="top")
        else:
            ax.set_xticklabels([])
        if r == 0:
            fig.text((left + PANEL_W / 2) / W, 1 - 19 / H, ang, ha="center", va="center",
                     fontsize=9.2, color="#333333")
    fig.text(883 / W, 1 - (ROW_TOPS[r] + PANEL_H / 2) / H, cond, rotation=-90,
             ha="center", va="center", fontsize=9.2, color="#333333")

fig.text(22 / W, 1 - 466 / H, "Activation signal (%)", rotation=90, style="italic",
         ha="center", va="center", fontsize=14, color="black")
fig.text((PANEL_LEFT0 + (PANEL_STEP_X * 7 + PANEL_W) / 2) / W, 1 - 957 / H, "Samples",
         style="italic", ha="center", va="center", fontsize=14, color="black")

handles = [Patch(facecolor=palette[s], alpha=LINE_ALPHA, edgecolor="none") for s in SUBJECTS]
leg = fig.legend(handles=handles, labels=SUBJECTS, title="Subject", loc="upper left",
                 bbox_to_anchor=(917 / W, 1 - 289 / H), frameon=False, fontsize=8.5,
                 title_fontsize=10.6, handlelength=1.64, handleheight=1.2,
                 labelspacing=0.87, handletextpad=0.75, borderpad=0, borderaxespad=0,
                 alignment="left")

fig.savefig("out.png", dpi=100, facecolor="white")
